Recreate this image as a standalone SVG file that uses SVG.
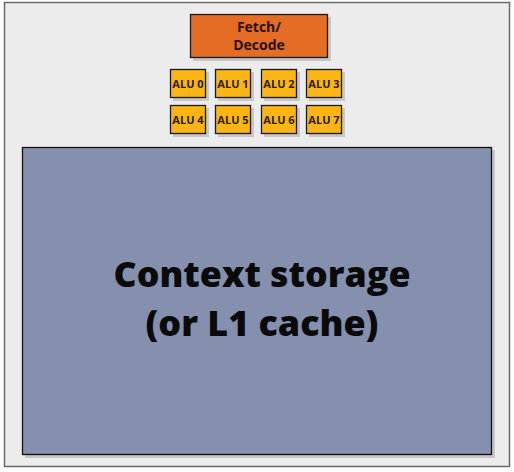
<svg xmlns="http://www.w3.org/2000/svg" width="514" height="472" viewBox="0 0 514 472">
<style>
.sh{fill:#b8b8b8;opacity:0.7}
.alu rect.b{fill:#fbb615;stroke:#1a1a1a;stroke-width:1.3}
.alu text{font-family:"Open Sans","Liberation Sans",sans-serif;font-weight:bold;font-size:11px;fill:#2a1a00;text-anchor:middle}
.t{font-family:"Open Sans","Liberation Sans",sans-serif;font-weight:bold;text-anchor:middle}
</style>
<rect x="0" y="0" width="514" height="472" fill="#ffffff"/>
<rect x="4.5" y="2.5" width="505" height="464" fill="#ececec" stroke="#6a6a6a" stroke-width="1.5"/>
<g id="fetch">
<rect class="sh" x="193" y="17" width="138" height="44"/>
<rect x="190.5" y="14.5" width="137" height="43" fill="#e46c24" stroke="#1a1a1a" stroke-width="1.3"/>
<text class="t" x="259" y="32" font-size="14" fill="#2a1005">Fetch/</text>
<text class="t" x="259" y="50" font-size="14" fill="#2a1005">Decode</text>
</g>
<g id="alu0" class="alu"><rect class="sh" x="173" y="72" width="36" height="29"/><rect class="b" x="170.5" y="69.5" width="35" height="28"/><text x="188" y="88">ALU 0</text></g>
<g id="alu1" class="alu"><rect class="sh" x="218" y="72" width="36" height="29"/><rect class="b" x="215.5" y="69.5" width="35" height="28"/><text x="233" y="88">ALU 1</text></g>
<g id="alu2" class="alu"><rect class="sh" x="264" y="72" width="36" height="29"/><rect class="b" x="261.5" y="69.5" width="35" height="28"/><text x="279" y="88">ALU 2</text></g>
<g id="alu3" class="alu"><rect class="sh" x="309" y="72" width="36" height="29"/><rect class="b" x="306.5" y="69.5" width="35" height="28"/><text x="324" y="88">ALU 3</text></g>
<g id="alu4" class="alu"><rect class="sh" x="173" y="108" width="36" height="29"/><rect class="b" x="170.5" y="105.5" width="35" height="28"/><text x="188" y="124">ALU 4</text></g>
<g id="alu5" class="alu"><rect class="sh" x="218" y="108" width="36" height="29"/><rect class="b" x="215.5" y="105.5" width="35" height="28"/><text x="233" y="124">ALU 5</text></g>
<g id="alu6" class="alu"><rect class="sh" x="264" y="108" width="36" height="29"/><rect class="b" x="261.5" y="105.5" width="35" height="28"/><text x="279" y="124">ALU 6</text></g>
<g id="alu7" class="alu"><rect class="sh" x="309" y="108" width="36" height="29"/><rect class="b" x="306.5" y="105.5" width="35" height="28"/><text x="324" y="124">ALU 7</text></g>
<g id="context">
<rect class="sh" x="25" y="150" width="470" height="308"/>
<rect x="22.5" y="147.5" width="469" height="307" fill="#8490ae" stroke="#111" stroke-width="1.3"/>
<text class="t" x="262" y="287" font-size="35" fill="#0a0a0a" textLength="297" lengthAdjust="spacingAndGlyphs" style="font-weight:800">Context storage</text>
<text class="t" x="262" y="336" font-size="35" fill="#0a0a0a" textLength="233" lengthAdjust="spacingAndGlyphs" style="font-weight:800">(or L1 cache)</text>
</g>
<g id="connectors"/>
</svg>
